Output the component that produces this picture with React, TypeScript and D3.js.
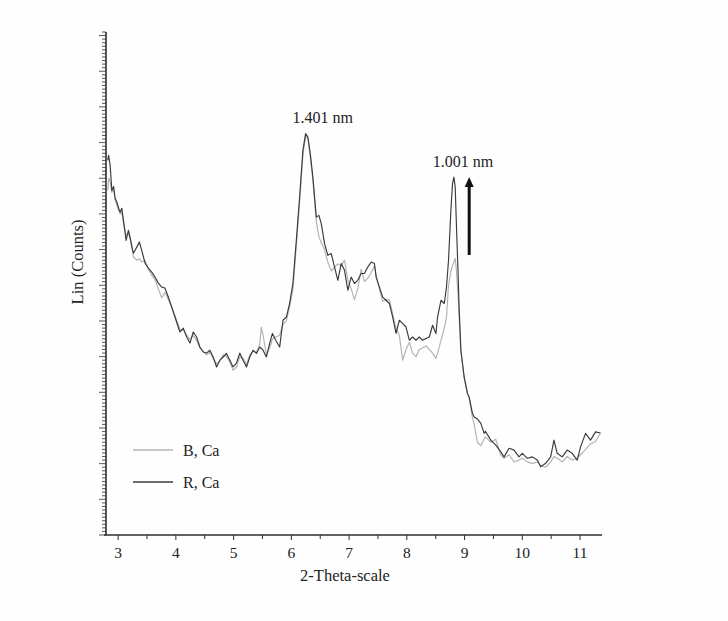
import React from "react";
import * as d3 from "d3";

// 2-theta positions (degrees) and counts for each sample
const thetaR = [2.82,2.836,2.862,2.891,2.922,2.948,2.978,3.009,3.035,3.064,3.092,3.138,3.178,3.207,3.237,3.264,3.323,3.368,3.409,3.466,3.523,3.582,3.639,3.696,3.755,3.812,3.869,3.927,3.984,4.041,4.071,4.128,4.187,4.244,4.301,4.359,4.416,4.473,4.532,4.589,4.646,4.705,4.762,4.819,4.877,4.934,4.991,5.05,5.107,5.164,5.223,5.28,5.337,5.396,5.453,5.51,5.568,5.625,5.672,5.729,5.798,5.855,5.914,5.971,6.028,6.086,6.143,6.2,6.247,6.287,6.328,6.373,6.402,6.432,6.477,6.518,6.575,6.632,6.691,6.748,6.805,6.864,6.921,6.978,7.036,7.093,7.15,7.209,7.266,7.323,7.382,7.439,7.468,7.525,7.582,7.641,7.698,7.755,7.813,7.87,7.927,7.986,8.043,8.1,8.159,8.216,8.273,8.332,8.389,8.446,8.504,8.532,8.591,8.648,8.687,8.722,8.763,8.791,8.815,8.838,8.86,8.884,8.907,8.936,8.993,9.05,9.079,9.136,9.166,9.223,9.282,9.339,9.36,9.455,9.541,9.627,9.684,9.77,9.857,9.943,10.0,10.087,10.173,10.259,10.318,10.404,10.491,10.548,10.604,10.691,10.777,10.864,10.95,11.009,11.095,11.181,11.268,11.354];
const countsR = [1050,1064,1036,966,977,944,933,916,905,916,882,826,854,835,807,790,807,821,798,762,748,737,723,706,695,692,667,639,611,583,569,580,555,538,569,555,527,513,510,518,499,471,490,499,509,490,471,482,510,490,471,499,518,509,527,518,499,537,565,546,527,602,611,650,706,826,947,1078,1125,1115,1069,1003,947,891,896,873,817,784,789,751,714,761,742,686,723,705,714,733,733,751,765,761,723,695,667,658,649,611,565,602,593,583,546,555,546,555,546,551,555,588,565,611,658,649,695,770,910,985,1003,975,863,751,630,518,443,397,387,341,331,325,313,285,291,266,252,233,219,243,238,219,229,215,219,210,191,201,219,266,229,219,238,229,210,247,285,266,289,286];

const thetaB = [2.82,2.836,2.862,2.891,2.922,2.948,2.978,3.009,3.035,3.064,3.092,3.138,3.178,3.207,3.237,3.264,3.323,3.368,3.409,3.466,3.523,3.582,3.639,3.696,3.755,3.812,3.869,3.927,3.984,4.041,4.071,4.128,4.187,4.244,4.301,4.359,4.416,4.473,4.532,4.589,4.646,4.705,4.762,4.819,4.877,4.934,4.991,5.05,5.107,5.164,5.223,5.28,5.337,5.396,5.453,5.48,5.51,5.568,5.625,5.672,5.729,5.798,5.855,5.914,5.971,6.028,6.086,6.143,6.2,6.247,6.287,6.328,6.373,6.402,6.432,6.477,6.518,6.575,6.632,6.691,6.748,6.805,6.864,6.921,6.978,7.036,7.093,7.15,7.209,7.266,7.323,7.382,7.439,7.468,7.525,7.582,7.641,7.698,7.755,7.813,7.87,7.927,7.986,8.043,8.1,8.159,8.216,8.273,8.332,8.389,8.446,8.504,8.532,8.591,8.648,8.687,8.722,8.763,8.791,8.815,8.838,8.86,8.884,8.907,8.936,8.993,9.05,9.079,9.136,9.166,9.223,9.282,9.339,9.36,9.455,9.541,9.627,9.684,9.77,9.857,9.943,10.0,10.087,10.173,10.259,10.318,10.404,10.491,10.548,10.604,10.691,10.777,10.864,10.95,11.009,11.095,11.181,11.268,11.354];
const countsB = [966,1000,990,960,970,940,925,910,900,905,875,840,846,830,815,780,770,775,765,770,745,728,716,690,665,680,660,640,615,590,575,575,560,548,560,545,525,515,505,512,495,480,488,505,500,485,462,470,500,495,478,505,515,512,535,583,560,505,525,550,555,560,590,600,640,690,810,935,1065,1118,1110,1060,995,940,880,835,820,800,765,740,750,760,755,770,715,690,660,690,745,710,720,735,755,730,690,655,660,660,620,580,560,490,520,540,510,500,520,525,530,520,510,495,510,545,580,610,700,740,755,765,775,740,680,610,515,440,395,385,330,310,260,250,270,275,260,268,225,215,225,205,210,215,205,200,205,195,190,205,220,215,205,220,210,215,225,240,255,262,286];

const xTicks = [3, 4, 5, 6, 7, 8, 9, 10, 11];
const xMinorTicks = [3.5, 4.5, 5.5, 6.5, 7.5, 8.5, 9.5, 10.5];
const legendLabels = ["B, Ca", "R, Ca"];
const peakLabels = ["1.401 nm", "1.001 nm"];
const peakThetas = [6.247, 8.815];

const W = 728;
const H = 621;
const FONT = "'Liberation Serif', 'Times New Roman', serif";

export default function App() {
  const x = d3.scaleLinear().domain([2.79, 11.38]).range([106, 602]);
  const y = d3.scaleLinear().domain([0, 1410]).range([535, 32]);

  const line = d3
    .line<[number, number]>()
    .x((d) => x(d[0]))
    .y((d) => y(d[1]));

  const dataB: [number, number][] = thetaB.map((t, i) => [t, countsB[i]]);
  const dataR: [number, number][] = thetaR.map((t, i) => [t, countsR[i]]);

  const yTicks = d3.range(0, 1411, 10);

  const axisColor = "#2e2e2e";
  const lightColor = "#b4b4b4";
  const darkColor = "#3a3a3a";

  const arrowX = x(9.08);

  return (
    <div style={{ position: "fixed", left: 0, top: 0 }}>
      <svg width={W} height={H} style={{ display: "block", background: "#fefefe" }}>
        {/* curves */}
        <path d={line(dataB) || ""} fill="none" stroke={lightColor} strokeWidth={1.2} strokeLinejoin="round" />
        <path d={line(dataR) || ""} fill="none" stroke={darkColor} strokeWidth={1.15} strokeLinejoin="round" />

        {/* y axis */}
        <line x1={106} x2={106} y1={y(1410)} y2={y(0)} stroke={axisColor} strokeWidth={1.6} />
        {yTicks.map((t) => (
          <line
            key={"yt" + t}
            x1={106}
            x2={t % 100 === 0 ? 99 : 102}
            y1={y(t)}
            y2={y(t)}
            stroke={axisColor}
            strokeWidth={0.8}
          />
        ))}

        {/* x axis */}
        <line x1={104} x2={x(11.38)} y1={y(0)} y2={y(0)} stroke={axisColor} strokeWidth={1.6} />
        {xTicks.map((t) => (
          <g key={"xt" + t}>
            <line x1={x(t)} x2={x(t)} y1={y(0)} y2={y(0) + 5} stroke={axisColor} strokeWidth={1} />
            <text x={x(t)} y={558} textAnchor="middle" fontFamily={FONT} fontSize={15.5} fill="#222">
              {t}
            </text>
          </g>
        ))}
        {xMinorTicks.map((t) => (
          <line key={"xm" + t} x1={x(t)} x2={x(t)} y1={y(0)} y2={y(0) + 4} stroke={axisColor} strokeWidth={1} />
        ))}

        {/* axis titles */}
        <text x={345} y={581} textAnchor="middle" fontFamily={FONT} fontSize={16.5} fill="#222">
          2-Theta-scale
        </text>
        <text
          transform={`translate(83, 262) rotate(-90)`}
          textAnchor="middle"
          fontFamily={FONT}
          fontSize={16.5}
          fill="#222"
        >
          Lin (Counts)
        </text>

        {/* peak annotations */}
        <text x={x(peakThetas[0]) + 17} y={123} textAnchor="middle" fontFamily={FONT} fontSize={16} fill="#222">
          {peakLabels[0]}
        </text>
        <text x={x(peakThetas[1]) + 9} y={167} textAnchor="middle" fontFamily={FONT} fontSize={16} fill="#222">
          {peakLabels[1]}
        </text>

        {/* arrow */}
        <line x1={arrowX} x2={arrowX} y1={255} y2={186} stroke="#111" strokeWidth={3} />
        <path d={`M${arrowX - 4.5},187 L${arrowX + 4.5},187 L${arrowX},177 Z`} fill="#111" />

        {/* legend */}
        <line x1={133} x2={173} y1={450} y2={450} stroke={lightColor} strokeWidth={1.4} />
        <text x={183} y={456} fontFamily={FONT} fontSize={16} fill="#222">
          {legendLabels[0]}
        </text>
        <line x1={133} x2={173} y1={482} y2={482} stroke={darkColor} strokeWidth={1.4} />
        <text x={183} y={488} fontFamily={FONT} fontSize={16} fill="#222">
          {legendLabels[1]}
        </text>
      </svg>
    </div>
  );
}
